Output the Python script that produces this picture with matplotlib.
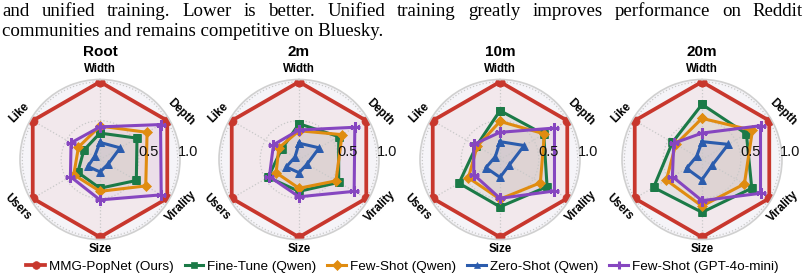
import numpy as np
import matplotlib
matplotlib.use('Agg')
import matplotlib.pyplot as plt

# Оси радара (по часовой стрелке от верха)
labels = ['Width', 'Depth', 'Virality', 'Size', 'Users', 'Like']
panels = ['Root', '2m', '10m', '20m']

# Значения по панелям: Root, 2m, 10m, 20m
popnet = [[1.0] * 6, [1.0] * 6, [1.0] * 6, [1.0] * 6]
finetune_qwen = [[0.34, 0.55, 0.54, 0.37, 0.33, 0.24],
                 [0.46, 0.59, 0.59, 0.41, 0.46, 0.26],
                 [0.63, 0.65, 0.70, 0.61, 0.61, 0.35],
                 [0.71, 0.66, 0.74, 0.68, 0.72, 0.44]]
fewshot_qwen = [[0.43, 0.70, 0.68, 0.41, 0.39, 0.32],
                [0.37, 0.64, 0.55, 0.37, 0.34, 0.30],
                [0.49, 0.66, 0.60, 0.51, 0.47, 0.34],
                [0.53, 0.75, 0.63, 0.60, 0.53, 0.39]]
zeroshot_qwen = [[0.22, 0.30, 0.12, 0.16, 0.18, 0.08],
                 [0.21, 0.30, 0.12, 0.17, 0.19, 0.06],
                 [0.23, 0.36, 0.14, 0.23, 0.21, 0.07],
                 [0.23, 0.39, 0.15, 0.26, 0.23, 0.08]]
fewshot_gpt = [[0.42, 0.90, 0.91, 0.52, 0.44, 0.43],
               [0.38, 0.83, 0.82, 0.48, 0.44, 0.38],
               [0.35, 0.81, 0.81, 0.50, 0.39, 0.39],
               [0.34, 0.87, 0.87, 0.53, 0.44, 0.42]]

series = [
    ('MMG-PopNet (Ours)', popnet, '#c8372d', 'o', 2.7),
    ('Fine-Tune (Qwen)', finetune_qwen, '#1b7a47', 's', 2.2),
    ('Few-Shot (Qwen)', fewshot_qwen, '#e08c10', 'D', 2.2),
    ('Zero-Shot (Qwen)', zeroshot_qwen, '#2b5cad', '^', 2.2),
    ('Few-Shot (GPT-4o-mini)', fewshot_gpt, '#8646c0', '+', 2.2),
]
msize = {'o': 6.5, 's': 5.5, 'D': 5.5, '^': 5.5, '+': 7.5}
mew = {'o': 0.5, 's': 0.5, 'D': 0.5, '^': 0.5, '+': 2.2}

caption1 = 'and unified training.  Lower is better.  Unified training greatly improves performance on Reddit'
caption2 = 'communities and remains competitive on Bluesky.'

W, H = 805, 279
fig = plt.figure(figsize=(W / 100, H / 100), dpi=100)
fig.patch.set_facecolor('white')

# Подпись сверху (выравнивание по ширине для первой строки)
renderer = fig.canvas.get_renderer()
cap_font = dict(family='Liberation Serif', fontsize=13.6, color='black')
words = caption1.split()
texts = [fig.text(0, 1 - 11 / H, w, va='center', ha='left', **cap_font) for w in words]
widths = [t.get_window_extent(renderer).width for t in texts]
x0, x1 = 2, 803
gap = (x1 - x0 - sum(widths)) / (len(words) - 1)
x = x0
for t, w in zip(texts, widths):
    t.set_x(x / W)
    x += w + gap
fig.text(x0 / W, 1 - 32 / H, caption2, va='center', ha='left', **cap_font)

angles = np.linspace(0, 2 * np.pi, len(labels), endpoint=False)
closed = np.concatenate([angles, angles[:1]])
rot = [0, -45, 45, 0, -45, 45]
lab_r = [1.17, 1.21, 1.21, 1.15, 1.23, 1.2]

centers = [100, 299, 500, 702]
rpx = 80
rmax = 1.03
cy = 119.5
handles = []
for i, (panel, cx) in enumerate(zip(panels, centers)):
    ax = fig.add_axes([(cx - rpx) / W, (cy - rpx) / H, 2 * rpx / W, 2 * rpx / H], polar=True)
    ax.set_theta_offset(np.pi / 2)
    ax.set_theta_direction(-1)
    ax.set_facecolor('#f5f4f8')
    ax.set_ylim(0, rmax)
    ax.set_yticks([0.5, 1.0])
    ax.set_yticklabels([])
    ax.set_xticks(angles)
    ax.set_xticklabels([])
    ax.grid(True, color='#c8c8c8', linestyle=':', linewidth=0.9)
    ax.spines['polar'].set_color('#d0d0d0')
    ax.spines['polar'].set_linewidth(1.2)
    ax.tick_params(length=0)

    for name, vals, col, mk, lw in series:
        v = np.array(vals[i] + vals[i][:1])
        ln, = ax.plot(closed, v, color=col, lw=lw, marker=mk, markersize=msize[mk],
                      markeredgewidth=mew[mk], label=name)
        ax.fill(closed, v, color=col, alpha=0.06)
        if i == 0:
            handles.append(ln)

    for a, lab, r, rt in zip(angles, labels, lab_r, rot):
        ax.text(a, r, lab, ha='center', va='center', rotation=rt, fontsize=8.3,
                fontweight='bold', family='Liberation Sans', clip_on=False)
    for r in [0.5, 1.0]:
        ax.text(np.pi / 2, r, f'{r:.1f}', ha='left', va='bottom', fontsize=10.5,
                family='Liberation Sans', color='#111111')
    fig.text(cx / W, 1 - 52 / H, panel, ha='center', va='center', fontsize=11,
             fontweight='bold', family='Liberation Sans')

fig.legend(handles=handles, loc='center', bbox_to_anchor=(0.5, 12.5 / H), ncol=5, frameon=False,
           prop=dict(family='Liberation Sans', size=9.7), handlelength=1.4, handletextpad=0.3,
           columnspacing=0.8, borderaxespad=0, markerscale=0.85)

fig.savefig('out.png', dpi=100)
